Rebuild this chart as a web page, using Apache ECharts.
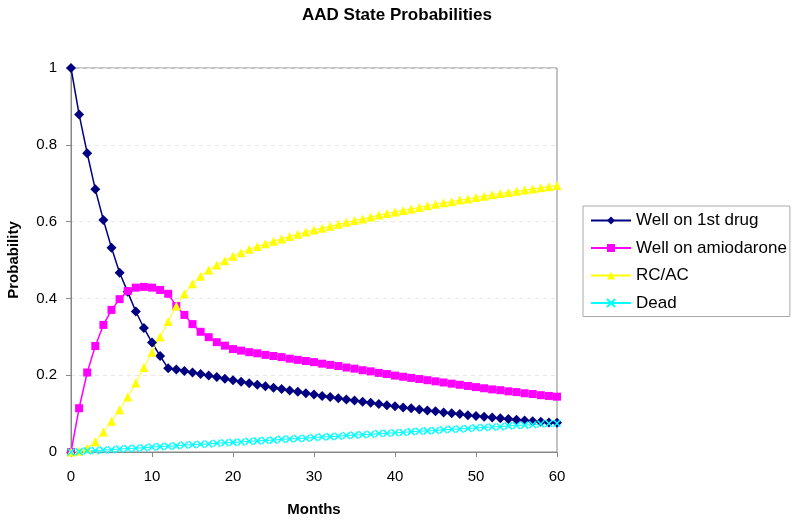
<!DOCTYPE html>
<html><head><meta charset="utf-8">
<script src="https://cdn.jsdelivr.net/npm/echarts@6/dist/echarts.min.js"></script>
<style>html,body{margin:0;padding:0;background:#fff}#c{width:800px;height:523px}</style>
</head><body><div id="c"></div>
<script>
const months = Array.from({length: 61}, (_, i) => i);
const wellFirst = [1.000,0.879,0.778,0.684,0.604,0.532,0.467,0.417,0.366,0.323,0.285,0.250,0.218,0.215,0.211,0.207,0.203,0.199,0.195,0.191,0.187,0.183,0.179,0.175,0.171,0.167,0.164,0.160,0.157,0.153,0.150,0.146,0.143,0.140,0.137,0.134,0.131,0.128,0.125,0.122,0.119,0.116,0.114,0.111,0.108,0.106,0.103,0.101,0.099,0.096,0.094,0.092,0.090,0.088,0.086,0.084,0.082,0.080,0.079,0.077,0.076];
const wellAmio = [0.000,0.114,0.207,0.276,0.331,0.370,0.398,0.419,0.428,0.430,0.428,0.422,0.412,0.380,0.357,0.333,0.313,0.299,0.286,0.277,0.268,0.264,0.260,0.257,0.253,0.250,0.247,0.243,0.240,0.237,0.234,0.230,0.227,0.224,0.220,0.217,0.213,0.210,0.206,0.203,0.199,0.196,0.193,0.190,0.187,0.184,0.181,0.178,0.175,0.172,0.169,0.166,0.163,0.161,0.158,0.156,0.153,0.151,0.148,0.146,0.144];
const rcac = [0.000,0.002,0.010,0.027,0.052,0.080,0.110,0.143,0.180,0.220,0.260,0.300,0.340,0.380,0.412,0.438,0.458,0.474,0.487,0.498,0.510,0.519,0.528,0.535,0.542,0.549,0.555,0.561,0.567,0.573,0.578,0.583,0.588,0.593,0.598,0.603,0.607,0.612,0.617,0.621,0.625,0.629,0.633,0.637,0.641,0.645,0.649,0.652,0.656,0.659,0.663,0.666,0.670,0.673,0.676,0.679,0.682,0.685,0.688,0.691,0.694];
const dead = [0.000,0.001,0.003,0.004,0.005,0.006,0.008,0.009,0.010,0.011,0.013,0.014,0.015,0.016,0.018,0.019,0.020,0.021,0.023,0.024,0.025,0.026,0.028,0.029,0.030,0.031,0.033,0.034,0.035,0.036,0.038,0.039,0.040,0.041,0.043,0.044,0.045,0.046,0.048,0.049,0.050,0.051,0.053,0.054,0.055,0.056,0.058,0.059,0.060,0.061,0.063,0.064,0.065,0.066,0.068,0.069,0.070,0.071,0.073,0.074,0.075];
const seriesNames = ['Well on 1st drug','Well on amiodarone','RC/AC','Dead'];

const pairs = arr => months.map((m, i) => [m, arr[i]]);
const font = 'Liberation Sans, Arial, sans-serif';
const xPath = 'path://M0,0L10,10M10,0L0,10';

const chart = echarts.init(document.getElementById('c'), null, {renderer: 'canvas'});
chart.setOption({
  animation: false,
  backgroundColor: '#fff',
  title: {text: 'AAD State Probabilities', left: 392, top: 2, textAlign: 'center',
    textStyle: {fontFamily: font, fontSize: 17, fontWeight: 'bold', color: '#000'}},
  grid: {left: 71, top: 68, width: 486, height: 384, show: true, borderColor: '#888', borderWidth: 1,
    backgroundColor: 'transparent', containLabel: false, outerBoundsMode: 'none'},
  legend: {
    orient: 'vertical', left: 583, top: 206, padding: [6, 3, 5, 7], itemGap: 10.5,
    itemWidth: 40, itemHeight: 10, borderColor: '#aaa', borderWidth: 1,
    textStyle: {fontFamily: font, fontSize: 17, color: '#000'},
    data: seriesNames
  },
  xAxis: {type: 'value', min: 0, max: 60, interval: 10,
    name: 'Months', nameLocation: 'middle', nameGap: 50,
    nameTextStyle: {fontFamily: font, fontSize: 15, fontWeight: 'bold', color: '#000'},
    axisLine: {lineStyle: {color: '#888'}},
    axisTick: {show: true, length: 5, lineStyle: {color: '#888'}},
    axisLabel: {fontFamily: font, fontSize: 15, color: '#000', margin: 17},
    splitLine: {show: false}},
  yAxis: {type: 'value', min: 0, max: 1, interval: 0.2,
    name: 'Probability', nameLocation: 'middle', nameGap: 50,
    nameTextStyle: {fontFamily: font, fontSize: 15, fontWeight: 'bold', color: '#000'},
    axisLine: {show: true, lineStyle: {color: '#888'}},
    axisTick: {show: true, length: 5, lineStyle: {color: '#888'}},
    axisLabel: {fontFamily: font, fontSize: 15, color: '#000', margin: 14},
    splitLine: {show: true, lineStyle: {color: '#e6e6e6', type: [4, 4]}}},
  series: [
    {name: seriesNames[0], type: 'line', data: pairs(wellFirst), symbol: 'diamond', symbolSize: 10,
      lineStyle: {color: '#000080', width: 1.5}, itemStyle: {color: '#000080'}},
    {name: seriesNames[1], type: 'line', data: pairs(wellAmio), symbol: 'rect', symbolSize: 8,
      lineStyle: {color: '#FF00FF', width: 1.5}, itemStyle: {color: '#FF00FF'}},
    {name: seriesNames[2], type: 'line', data: pairs(rcac), symbol: 'triangle', symbolSize: 9,
      lineStyle: {color: '#FFFF00', width: 1}, itemStyle: {color: '#FFFF00'}},
    {name: seriesNames[3], type: 'line', data: pairs(dead), symbol: xPath, symbolSize: 7,
      lineStyle: {color: '#00FFFF', width: 1}, itemStyle: {color: 'none', borderColor: '#00FFFF', borderWidth: 1.5}}
  ]
});
</script></body></html>
